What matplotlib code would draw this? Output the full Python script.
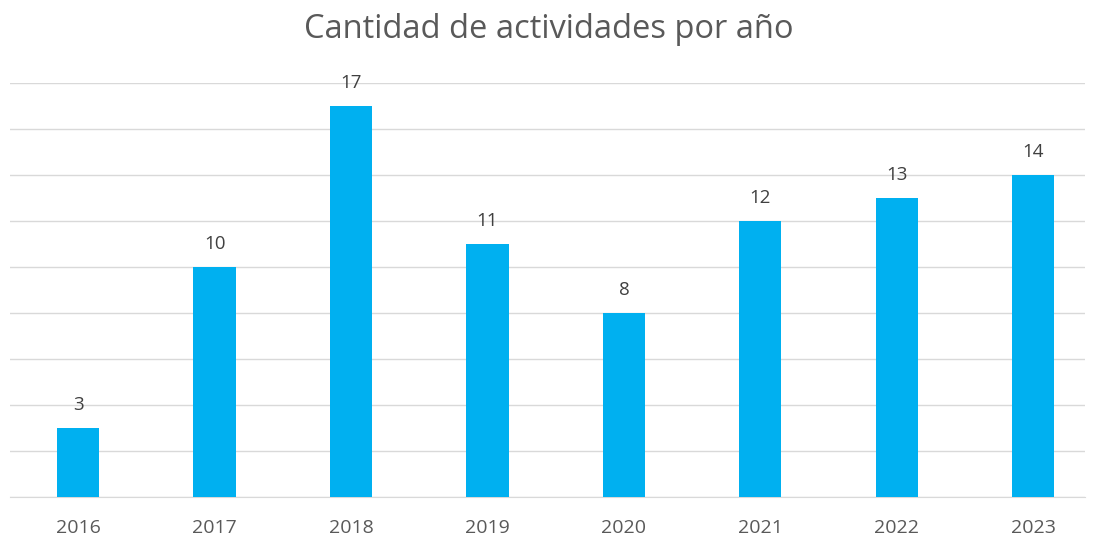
import matplotlib
matplotlib.use("Agg")
import matplotlib.pyplot as plt

years = ["2016", "2017", "2018", "2019", "2020", "2021", "2022", "2023"]
actividades = [3, 10, 17, 11, 8, 12, 13, 14]

plt.rcParams['font.family'] = ['Open Sans', 'DejaVu Sans']

fig = plt.figure(figsize=(10.97, 5.40), dpi=100)
ax = fig.add_axes([10 / 1097, 43 / 540, 1075 / 1097, 414 / 540])

x = range(len(years))
bars = ax.bar(x, actividades, width=0.31, color="#00B0F0", zorder=3)
for rect, v in zip(bars, actividades):
    ax.annotate(str(v), (rect.get_x() + rect.get_width() / 2, v),
                xytext=(0, 10), textcoords="offset points",
                ha="center", va="bottom", fontsize=13.5, color="#404040")

# category slots are a bit wider than the gridlines, as in the original
ax.set_xlim(-0.5, len(years) - 0.5 - 0.12)
ax.set_ylim(0, 18)
ax.set_yticks(range(0, 19, 2))
ax.set_yticklabels([])
ax.set_xticks(list(x))
ax.set_xticklabels(years, fontsize=14, color="#595959")
ax.tick_params(axis="both", length=0)
ax.tick_params(axis="x", pad=16)
ax.grid(axis="y", color="#d9d9d9", linewidth=1, zorder=0)
for side in ["top", "right", "left"]:
    ax.spines[side].set_visible(False)
ax.spines["bottom"].set_color("#d9d9d9")

fig.text(0.5, 1 - 30 / 540, "Cantidad de actividades por año", ha="center", va="center",
         fontsize=23.5, color="#595959")

fig.savefig("out.png", dpi=100)
